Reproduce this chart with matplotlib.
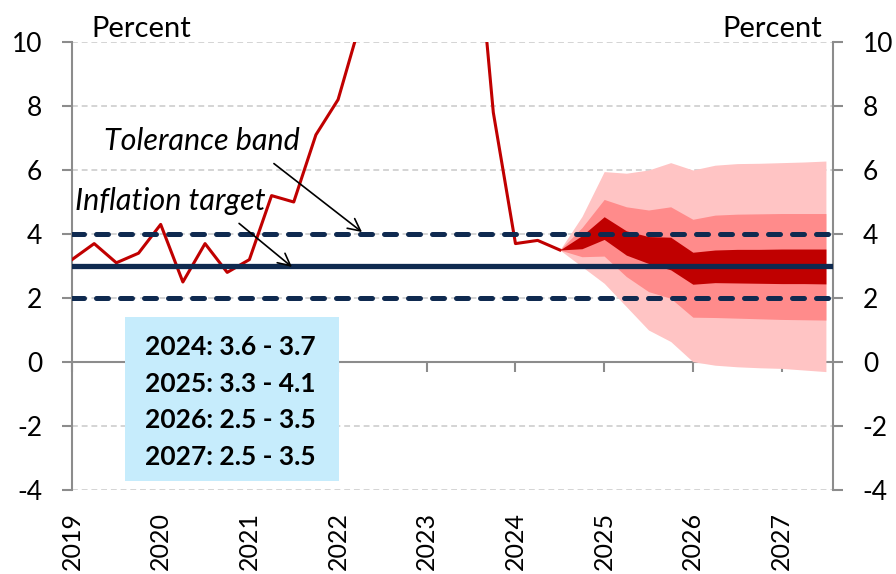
import matplotlib.pyplot as plt
import numpy as np

plt.rcParams['font.family'] = ['Lato', 'DejaVu Sans']
plt.rcParams['axes.unicode_minus'] = False

# quarterly CPI, first quarter placed at the start of the year
hist_x = np.arange(2019.0, 2024.51, 0.25)
hist_y = [3.2, 3.7, 3.1, 3.4, 4.3, 2.5, 3.7, 2.8, 3.2, 5.2, 5.0, 7.1,
          8.2, 10.6, 16.5, 22.7, 25.4, 21.9, 15.4, 7.8, 3.7, 3.8, 3.5]

fan_x = np.arange(2024.5, 2027.51, 0.25)
light_hi = [3.5, 4.55, 5.95, 5.9, 6.0, 6.23, 6.0, 6.15, 6.2, 6.21, 6.23, 6.25, 6.28]
med_hi = [3.5, 4.2, 5.08, 4.85, 4.75, 4.85, 4.46, 4.59, 4.62, 4.63, 4.64, 4.64, 4.64]
dark_hi = [3.5, 3.95, 4.54, 4.1, 3.92, 3.9, 3.43, 3.5, 3.52, 3.52, 3.53, 3.53, 3.53]
dark_lo = [3.5, 3.54, 3.83, 3.34, 3.08, 2.88, 2.43, 2.48, 2.47, 2.46, 2.45, 2.45, 2.44]
med_lo = [3.5, 3.29, 3.31, 2.67, 2.2, 1.99, 1.40, 1.39, 1.37, 1.35, 1.33, 1.32, 1.31]
light_lo = [3.5, 2.98, 2.46, 1.73, 1.0, 0.64, 0.01, -0.1, -0.15, -0.18, -0.2, -0.25, -0.3]

target = 3
band = [2, 4]
years = list(range(2019, 2028))
box_lines = ["2024: 3.6 - 3.7", "2025: 3.3 - 4.1", "2026: 2.5 - 3.5", "2027: 2.5 - 3.5"]

NAVY = '#0f2a50'
RED = '#c00000'
GREY = '#8c8c8c'
FS = 19

fig = plt.figure(figsize=(8.96, 5.74), dpi=100)
ax = fig.add_axes([72 / 896, 1 - 490 / 574, 761 / 896, 448 / 574])

ax.set_xlim(2019, 2027.58)
ax.set_ylim(-4, 10)

# gridlines, skip zero (that one is the axis)
for g in [-4, -2, 2, 4, 6, 8, 10]:
    ax.axhline(g, color='#d4d4d4', lw=1.4, ls=(0, (3, 2)), zorder=0)

ax.fill_between(fan_x, light_lo, light_hi, color='#ffc4c4', lw=0, zorder=1)
ax.fill_between(fan_x, med_lo, med_hi, color='#ff8b8b', lw=0, zorder=2)
ax.fill_between(fan_x, dark_lo, dark_hi, color=RED, lw=0, zorder=3)

ax.plot(hist_x, hist_y, color=RED, lw=2.2, zorder=4, clip_on=True)

ax.axhline(target, color=NAVY, lw=3.8, zorder=5, solid_capstyle='round')
for b in band:
    ax.axhline(b, color=NAVY, lw=3.6, ls=(0, (2.4, 2.4)), dash_capstyle='round', zorder=5)

# axes / spines
for s in ['top', 'bottom']:
    ax.spines[s].set_visible(False)
for s in ['left', 'right']:
    ax.spines[s].set_color(GREY)
    ax.spines[s].set_linewidth(1.5)
ax.axhline(0, color=GREY, lw=1.5, zorder=0.5)

ax.set_yticks(range(-4, 11, 2))
ax.tick_params(axis='y', which='both', direction='out', length=7.5, width=1.5, color=GREY,
               labelsize=FS, left=True, right=True, labelleft=True, labelright=True, pad=14)

ax.set_xticks(years)
ax.tick_params(axis='x', bottom=False, labelbottom=False)

# year tick marks hang from the zero line
zero_ax = ax.secondary_xaxis(location=4 / 14)
zero_ax.set_xticks(years)
zero_ax.spines['bottom'].set_visible(False)
zero_ax.tick_params(direction='out', length=7.5, width=1.5, color=GREY, labelbottom=False)

lab_ax = ax.secondary_xaxis('bottom')
lab_ax.set_xticks(years)
lab_ax.spines['bottom'].set_visible(False)
lab_ax.tick_params(length=0, pad=16, labelsize=18, labelrotation=90)

ax.text(0.025, 1.012, "Percent", transform=ax.transAxes, ha='left', va='baseline', fontsize=21)
ax.text(0.986, 1.012, "Percent", transform=ax.transAxes, ha='right', va='baseline', fontsize=21)

ax.annotate("Tolerance band", xy=(2022.27, 4.06), xytext=(2020.46, 6.62),
            ha='center', va='baseline', fontsize=22, style='italic',
            arrowprops=dict(arrowstyle='->', color='black', lw=1.2, mutation_scale=22,
                            shrinkA=0, shrinkB=0, relpos=(0.87, -0.3)), zorder=6)
ax.annotate("Inflation target", xy=(2021.48, 2.97), xytext=(2020.11, 4.75),
            ha='center', va='baseline', fontsize=22, style='italic',
            arrowprops=dict(arrowstyle='->', color='black', lw=1.2, mutation_scale=22,
                            shrinkA=0, shrinkB=0, relpos=(0.86, -0.3)), zorder=6)

box = plt.Rectangle(((125 - 72) / 761, (490 - 481) / 448), 214 / 761, 164 / 448,
                    transform=ax.transAxes, color='#c6ecfc', lw=0, zorder=6)
ax.add_patch(box)
for i, line in enumerate(box_lines):
    ax.text((145 - 72) / 761, (490 - 355 - 36.7 * i) / 448, line, transform=ax.transAxes,
            ha='left', va='baseline', fontsize=19, fontweight='bold', zorder=7)

plt.savefig('out.png', dpi=100)
plt.close(fig)
